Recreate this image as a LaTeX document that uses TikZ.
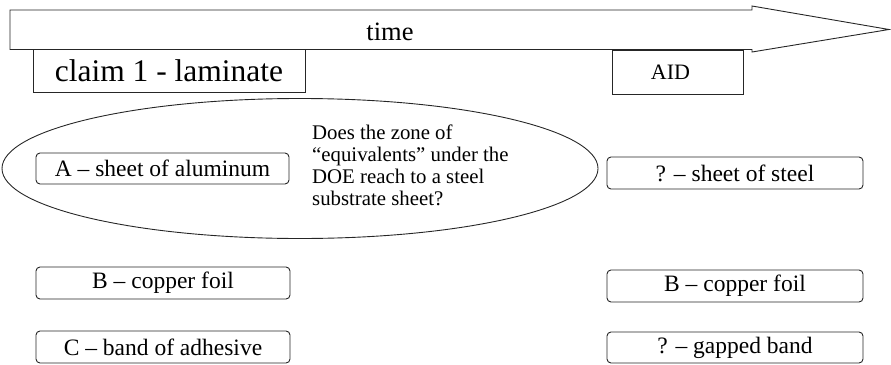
\documentclass[tikz,border=0pt]{standalone}
\usepackage{fontspec}
\setmainfont{Liberation Serif}
\usetikzlibrary{shapes.geometric}
\begin{document}
\begin{tikzpicture}[x=1pt,y=-1pt,
  line/.style={line width=0.9pt, draw=black!85},
  item/.style={line, draw, rounded corners=4pt, inner sep=0pt, minimum width=254pt, minimum height=31pt, font=\fontsize{23.5}{28}\selectfont},
  label/.style={line, draw, inner sep=0pt}]
\useasboundingbox (0,0) rectangle (891,364);
% time arrow
\draw[line] (10,10) -- (752,10) -- (752,6) -- (889,29.5) -- (752,52) -- (752,49.5) -- (10,49.5) -- cycle;
\node[anchor=base, inner sep=0pt, font=\fontsize{26.5}{30}\selectfont] (time) at (390,40) {time};
% header boxes
\node[label, minimum width=272pt, minimum height=43pt, font=\fontsize{31.5}{34}\selectfont] (claim) at (169,71) {claim 1 - laminate};
\node[label, minimum width=131pt, minimum height=44pt, font=\fontsize{22}{26}\selectfont] (aid) at (677.5,72) {AID\hspace*{14pt}};
% ellipse and question
\node[line, draw, ellipse, inner sep=0pt, minimum width=596pt, minimum height=140pt] (zone) at (300,168.5) {};
\node[anchor=north west, inner sep=0pt, align=left, font=\fontsize{20.8}{22}\selectfont] (question) at (312,125)
  {Does the zone of\\``equivalents'' under the\\DOE reach to a steel\\substrate sheet?};
% claim elements
\node[item, minimum width=253pt] (a) at (162.5,168.5) {A -- sheet of aluminum};
\node[item, minimum height=32pt] (b) at (163,283) {B -- copper foil};
\node[item, minimum height=32pt] (c) at (163,347) {C -- band of adhesive};
% accused device elements
\node[item, minimum width=256pt, minimum height=32pt] (steel) at (735,173) {? -- sheet of steel};
\node[item, minimum width=256pt, minimum height=32pt] (b2) at (735,286) {B -- copper foil};
\node[item, minimum width=256pt] (gap) at (735,347.5) {? -- gapped band};
\end{tikzpicture}
\end{document}
